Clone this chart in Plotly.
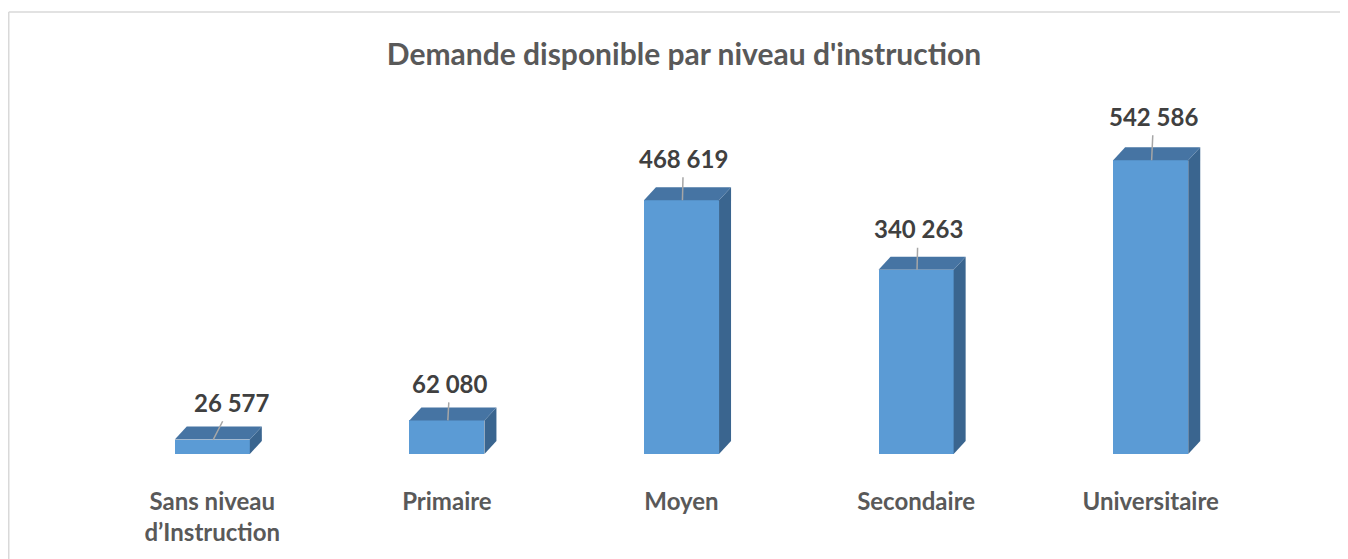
import plotly.graph_objects as go

# ---- data ----
categories = ["Sans niveau<br>d’Instruction", "Primaire", "Moyen", "Secondaire", "Universitaire"]
values = [26577, 62080, 468619, 340263, 542586]
title_text = "Demande disponible par niveau d'instruction"

# ---- styling / layout constants ----
# the page body adds an 8px offset, so the figure is drawn 8px smaller / shifted
W, H = 1340, 551
ML, MR, MT, MB = 87, 80, 67, 105
YMAX = 700000
BAR_W = 0.32
DEPTH_PX_X, DEPTH_PX_Y = 12, 13
FRONT = "#5B9BD5"
TOP = "#4674A3"
SIDE = "#3A658F"
FONT = "Lato"
# label offsets from bar-top anchor, in pixels (ax, ay)
label_ax = [19, 2, 1, 1, 2]
label_ay = [-37, -37, -42, -41, -44]

plot_w = W - ML - MR
plot_h = H - MT - MB
px_per_x = plot_w / 5.0
px_per_y = plot_h / YMAX
dx = DEPTH_PX_X / px_per_x
dy = DEPTH_PX_Y / px_per_y

def fmt(v):
    return f"{v:,}".replace(",", " ")

fig = go.Figure()

xs = list(range(len(values)))
for i, v in zip(xs, values):
    x0, x1 = i - BAR_W / 2, i + BAR_W / 2
    # side face
    fig.add_trace(go.Scatter(
        x=[x1, x1 + dx, x1 + dx, x1, x1], y=[0, dy, v + dy, v, 0],
        fill="toself", fillcolor=SIDE, mode="lines", line=dict(width=0, color=SIDE),
        hoverinfo="skip", showlegend=False))
    # top face
    fig.add_trace(go.Scatter(
        x=[x0, x1, x1 + dx, x0 + dx, x0], y=[v, v, v + dy, v + dy, v],
        fill="toself", fillcolor=TOP, mode="lines", line=dict(width=0, color=TOP),
        hoverinfo="skip", showlegend=False))

# front faces
fig.add_trace(go.Bar(x=xs, y=values, width=BAR_W, marker=dict(color=FRONT, line=dict(width=0)),
                     hoverinfo="skip", showlegend=False))

# data labels with leader lines
for i, v in zip(xs, values):
    fig.add_annotation(
        x=i + 0.004, y=v, xref="x", yref="y", text=f"<b>{fmt(v)}</b>",
        showarrow=True, arrowhead=0, arrowwidth=1.5, arrowcolor="#A6A6A6",
        ax=label_ax[i], ay=label_ay[i], standoff=0, startstandoff=3,
        font=dict(family=FONT, size=24, color="#404040"))

# chart border (left + top)
left_px, top_px = 0.75, 4
xl = (left_px - ML) / plot_w
yt = 1 + (MT - top_px) / plot_h
yb = -(MB + 2) / plot_h
xr = 1 + (MR + 2) / plot_w
fig.add_shape(type="line", xref="paper", yref="paper", x0=xl, x1=xl, y0=yb, y1=yt,
              line=dict(color="#D9D9D9", width=1.5))
fig.add_shape(type="line", xref="paper", yref="paper", x0=xl, x1=xr, y0=yt, y1=yt,
              line=dict(color="#D9D9D9", width=1.5))

fig.update_layout(
    width=W, height=H, autosize=False,
    margin=dict(l=ML, r=MR, t=MT, b=MB),
    plot_bgcolor="white", paper_bgcolor="white",
    title=dict(text=f"<b>{title_text}</b>", x=(684 - 8) / W, xanchor="center", y=1 - (54 - 8) / H,
               yanchor="middle",
               font=dict(family=FONT, size=30, color="#595959")),
    xaxis=dict(range=[-0.5, 4.5], tickmode="array", tickvals=xs,
               ticktext=[f"<b>{c}</b>" for c in categories],
               showgrid=False, zeroline=False, showline=False, ticks="",
               ticklabelstandoff=31,
               tickfont=dict(family=FONT, size=24, color="#595959")),
    yaxis=dict(range=[0, YMAX], visible=False),
    bargap=0,
)

fig.write_html("out.html")
